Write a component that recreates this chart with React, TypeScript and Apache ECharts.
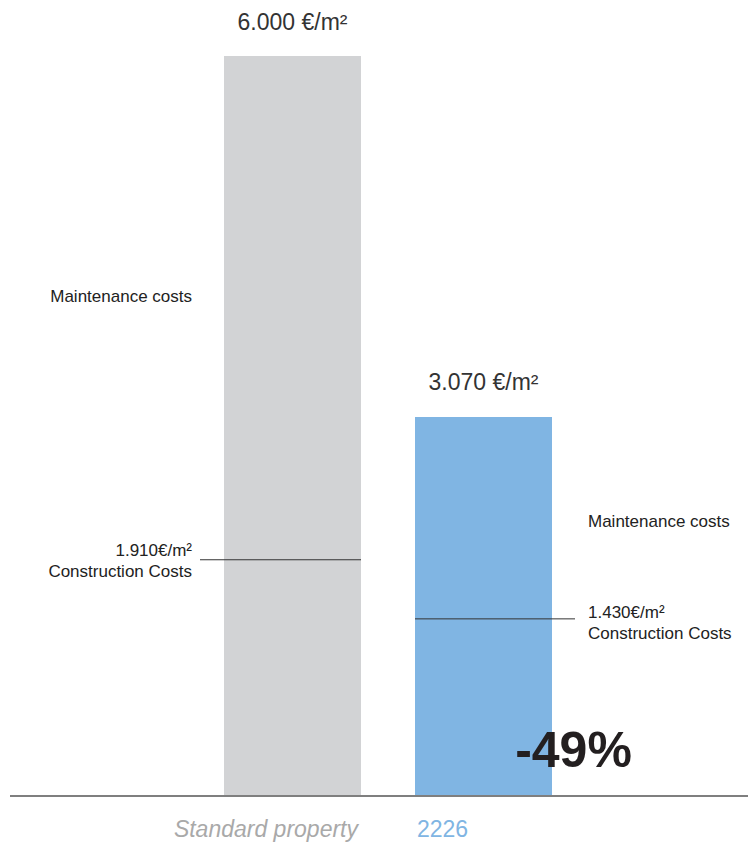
import React, { useEffect, useRef } from "react";
import * as echarts from "echarts";

const categories = ["Standard property", "2226"];
const totalCosts = [6000, 3070];
const constructionCosts = [1910, 1430];
const totalLabels = ["6.000 €/m²", "3.070 €/m²"];
const constructionLabels = ["1.910€/m²", "1.430€/m²"];
const segmentNames = ["Maintenance costs", "Construction Costs"];
const changeLabel = "-49%";

const barColors = ["#d2d3d5", "#80b5e3"];
const categoryLabelColors = ["#a9a9a9", "#80b5e3"];
const FONT = "'Liberation Sans', Arial, Helvetica, sans-serif";

export default function App() {
  const ref = useRef<HTMLDivElement>(null);

  useEffect(() => {
    const chart = echarts.init(ref.current!, null, { renderer: "svg" });
    const BAR_W = 137;
    chart.setOption({
      animation: false,
      grid: { left: 197, right: 169, top: 56, bottom: 49 },
      xAxis: {
        type: "category",
        data: categories,
        axisLine: { show: false },
        axisTick: { show: false },
        axisLabel: { show: false },
      },
      yAxis: { type: "value", min: 0, max: 6000, show: false },
      series: [
        {
          type: "bar",
          barWidth: BAR_W,
          data: totalCosts.map((v, i) => ({ value: v, itemStyle: { color: barColors[i] } })),
          label: {
            show: true,
            position: "top",
            distance: 23,
            formatter: (p: any) => totalLabels[p.dataIndex],
            fontFamily: FONT,
            fontSize: 23,
            color: "#333",
          },
        },
      ],
    });

    const px = (i: number, v: number) =>
      chart.convertToPixel({ seriesIndex: 0 }, [i, v]) as number[];
    const y0 = px(0, 0)[1];
    const graphics: any[] = [];

    // baseline
    graphics.push({
      type: "line",
      shape: { x1: 10, y1: y0 + 1, x2: 748, y2: y0 + 1 },
      style: { stroke: "#555", lineWidth: 1.5 },
    });

    const maintOffset = [-11, 4];
    const constrOffset = [1, 4];
    categories.forEach((cat, i) => {
      const cx = px(i, 0)[0];
      const left = cx - BAR_W / 2;
      const right = cx + BAR_W / 2;
      const isLeft = i === 0;
      const textX = isLeft ? left - 32 : right + 36;
      const align = isLeft ? "right" : "left";
      const yTop = px(i, totalCosts[i])[1];
      const yC = px(i, constructionCosts[i])[1];

      // construction split line
      graphics.push({
        type: "line",
        shape: {
          x1: isLeft ? left - 24 : left,
          y1: yC,
          x2: isLeft ? right : right + 23,
          y2: yC,
        },
        style: { stroke: "#333", lineWidth: 1 },
        z: 10,
      });

      // maintenance label
      graphics.push({
        type: "text",
        x: textX,
        y: (yTop + yC) / 2 + maintOffset[i],
        style: {
          text: segmentNames[0],
          align,
          textAlign: align,
          verticalAlign: "middle",
          textVerticalAlign: "middle",
          fontFamily: FONT,
          fontSize: 17,
          fill: "#222",
        },
      });

      // construction label
      graphics.push({
        type: "text",
        x: textX,
        y: yC + constrOffset[i],
        style: {
          text: constructionLabels[i] + "\n" + segmentNames[1],
          align,
          textAlign: align,
          verticalAlign: "middle",
          textVerticalAlign: "middle",
          lineHeight: 21,
          fontFamily: FONT,
          fontSize: 17,
          fill: "#222",
        },
      });

      // category label
      graphics.push({
        type: "text",
        x: isLeft ? right - 3 : left + 2,
        y: y0 + 34,
        style: {
          text: cat,
          align,
          textAlign: align,
          verticalAlign: "middle",
          textVerticalAlign: "middle",
          fontFamily: FONT,
          fontSize: 23,
          fontStyle: isLeft ? "italic" : "normal",
          fill: categoryLabelColors[i],
        },
      });
    });

    const cx1 = px(1, 0)[0];
    graphics.push({
      type: "text",
      x: cx1 + 90,
      y: y0 - 45,
      z: 20,
      style: {
        text: changeLabel,
        align: "center",
        textAlign: "center",
        verticalAlign: "middle",
        textVerticalAlign: "middle",
        fontFamily: FONT,
        fontSize: 50,
        fontWeight: "bold",
        fill: "#231f20",
      },
    });

    chart.setOption({ graphic: graphics });

    return () => chart.dispose();
  }, []);

  return (
    <div
      ref={ref}
      style={{ position: "absolute", left: 0, top: 0, width: 748, height: 844 }}
    />
  );
}
